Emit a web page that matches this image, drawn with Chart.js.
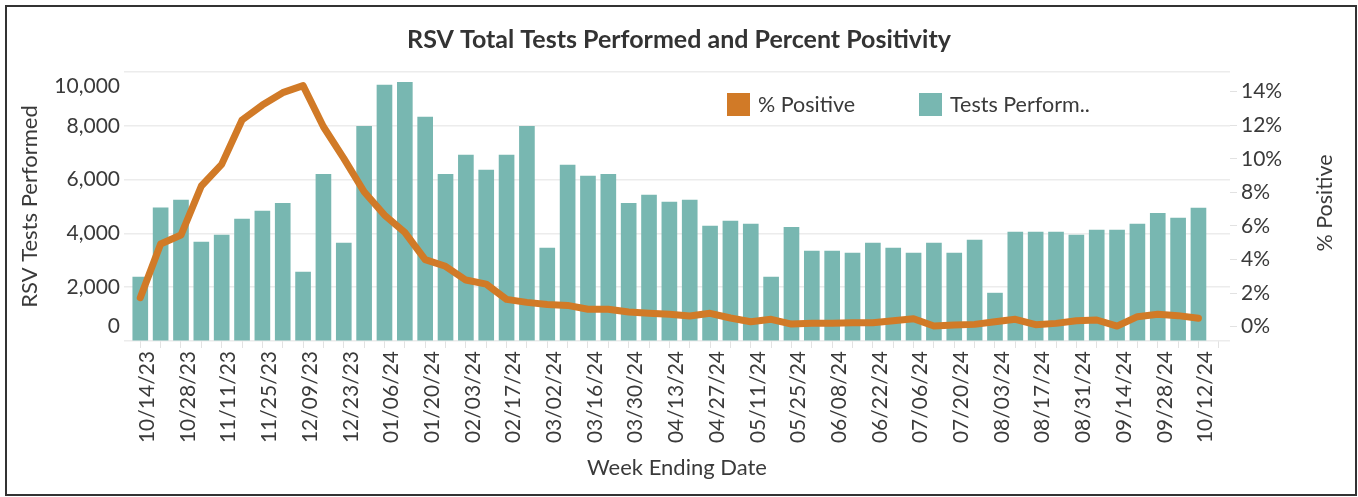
<!DOCTYPE html>
<html lang="en">
<head>
    <meta charset="UTF-8">
    <title>RSV Total Tests Performed and Percent Positivity</title>
    <script src="https://cdn.jsdelivr.net/npm/chart.js"></script>
    <style>
        * {
            margin: 0;
            padding: 0;
            box-sizing: border-box;
        }

        body {
            background: #fff;
            width: 1358px;
            height: 497px;
            overflow: hidden;
            font-family: Lato, sans-serif;
        }

        .wrap {
            position: relative;
            width: 1358px;
            height: 497px;
        }

        .frame {
            position: absolute;
            left: 5px;
            top: 5px;
            width: 1352px;
            height: 491px;
            border: 2px solid #333;
            pointer-events: none;
        }
    </style>
</head>
<body>

<div class="wrap">
    <canvas id="rsvChart" width="1358" height="497"></canvas>
    <div class="frame"></div>
</div>

<script>
    // week ending dates
    const weeks = [
        '10/14/23', '10/21/23', '10/28/23', '11/04/23', '11/11/23', '11/18/23', '11/25/23',
        '12/02/23', '12/09/23', '12/16/23', '12/23/23', '12/30/23', '01/06/24', '01/13/24',
        '01/20/24', '01/27/24', '02/03/24', '02/10/24', '02/17/24', '02/24/24', '03/02/24',
        '03/09/24', '03/16/24', '03/23/24', '03/30/24', '04/06/24', '04/13/24', '04/20/24',
        '04/27/24', '05/04/24', '05/11/24', '05/18/24', '05/25/24', '06/01/24', '06/08/24',
        '06/15/24', '06/22/24', '06/29/24', '07/06/24', '07/13/24', '07/20/24', '07/27/24',
        '08/03/24', '08/10/24', '08/17/24', '08/24/24', '08/31/24', '09/07/24', '09/14/24',
        '09/21/24', '09/28/24', '10/05/24', '10/12/24'
    ];

    // RSV tests performed per week
    const testsPerformed = [
        2380, 4950, 5240, 3680, 3940, 4530, 4830, 5120, 2560, 6200,
        3640, 7980, 9510, 9620, 8320, 6200, 6910, 6350, 6910, 7980,
        3450, 6540, 6130, 6200, 5120, 5420, 5160, 5240, 4270, 4460,
        4350, 2380, 4230, 3340, 3340, 3270, 3640, 3450, 3270, 3640,
        3270, 3750, 1780, 4050, 4050, 4050, 3940, 4120, 4120, 4350,
        4750, 4570, 4940
    ];

    // percent positive per week
    const pctPositive = [
        1.73, 4.93, 5.46, 8.38, 9.67, 12.31, 13.2, 13.94, 14.36, 11.91,
        10.03, 8.04, 6.65, 5.62, 4.0, 3.6, 2.78, 2.54, 1.63, 1.45,
        1.33, 1.27, 1.04, 1.04, 0.88, 0.8, 0.74, 0.64, 0.8, 0.52,
        0.3, 0.44, 0.16, 0.2, 0.2, 0.24, 0.24, 0.36, 0.48, 0.04,
        0.1, 0.14, 0.3, 0.44, 0.12, 0.2, 0.36, 0.4, 0.04, 0.6,
        0.74, 0.66, 0.5
    ];

    const testTicks = [0, 2000, 4000, 6000, 8000, 10000];
    const pctTicks = [0, 2, 4, 6, 8, 10, 12, 14];

    const textColor = '#3a3a3a';
    const gridColor = '#ececec';
    const font = 'Lato, sans-serif';

    // legend inside the plot, left tick labels kept inside the plot height,
    // right axis title reading bottom-to-top
    const extras = {
        id: 'extras',
        afterDraw(chart) {
            const ctx = chart.ctx;
            const area = chart.chartArea;
            ctx.save();
            ctx.textBaseline = 'middle';

            // left axis labels
            const yScale = chart.scales.y;
            ctx.font = '21px ' + font;
            ctx.fillStyle = textColor;
            ctx.textAlign = 'right';
            testTicks.forEach(function (v) {
                let py = yScale.getPixelForValue(v);
                py = Math.min(Math.max(py, area.top + 14), area.bottom - 15);
                ctx.fillText(v.toLocaleString('en-US'), yScale.right - 4, py);
            });

            // legend
            ctx.font = '21.5px ' + font;
            const items = [chart.data.datasets[0], chart.data.datasets[1]];
            const xs = [727, 919];
            items.forEach(function (ds, i) {
                ctx.fillStyle = ds.legendColor;
                ctx.fillRect(xs[i], 93, 23, 23);
                ctx.fillStyle = textColor;
                let label = ds.label;
                if (label.length > 13) label = label.slice(0, 13) + '..';
                ctx.textAlign = 'left';
                ctx.fillText(label, xs[i] + 31, 105);
            });

            // right axis title
            ctx.translate(1325, 203);
            ctx.rotate(-Math.PI / 2);
            ctx.textAlign = 'center';
            ctx.fillText('% Positive', 0, 0);
            ctx.restore();
        }
    };

    new Chart(document.getElementById('rsvChart'), {
        type: 'bar',
        data: {
            datasets: [{
                type: 'line',
                label: '% Positive',
                data: pctPositive.map((v, i) => ({ x: i, y: v })),
                yAxisID: 'y1',
                borderColor: '#D17A27',
                legendColor: '#D17A27',
                borderWidth: 7,
                borderJoinStyle: 'round',
                borderCapStyle: 'round',
                pointRadius: 0,
                tension: 0,
                order: 0
            }, {
                type: 'bar',
                label: 'Tests Performed',
                data: testsPerformed.map((v, i) => ({ x: i, y: v })),
                yAxisID: 'y',
                backgroundColor: '#78B7B1',
                legendColor: '#78B7B1',
                barThickness: 15,
                order: 1
            }]
        },
        options: {
            responsive: false,
            animation: false,
            layout: { padding: 0 },
            plugins: {
                legend: { display: false },
                tooltip: { enabled: false },
                title: {
                    display: true,
                    text: 'RSV Total Tests Performed and Percent Positivity',
                    color: '#333',
                    font: { family: font, size: 25, weight: 'bold', lineHeight: 1.2 },
                    padding: { top: 25, bottom: 17 }
                }
            },
            scales: {
                x: {
                    type: 'linear',
                    min: -0.8,
                    max: 53.55,
                    offset: false,
                    afterBuildTicks: function (scale) {
                        scale.ticks = weeks.concat(['']).map((w, i) => ({ value: i }));
                    },
                    afterFit: function (scale) {
                        scale.height = 156;
                    },
                    ticks: {
                        autoSkip: false,
                        minRotation: 90,
                        maxRotation: 90,
                        padding: 3,
                        labelOffset: 7,
                        color: textColor,
                        font: { family: font, size: 21 },
                        callback: function (v) {
                            return v % 2 === 0 && weeks[v] ? weeks[v] : '';
                        }
                    },
                    grid: {
                        offset: false,
                        drawOnChartArea: false,
                        tickLength: 7,
                        color: '#e2e2e2'
                    },
                    border: { display: false },
                    title: {
                        display: true,
                        text: 'Week Ending Date',
                        color: textColor,
                        font: { family: font, size: 22, lineHeight: 1.2 },
                        padding: { top: 0, bottom: 16 }
                    }
                },
                y: {
                    position: 'left',
                    min: 0,
                    max: 10000,
                    afterBuildTicks: function (scale) {
                        scale.ticks = testTicks.map(v => ({ value: v }));
                    },
                    afterFit: function (scale) {
                        scale.width = 124;
                    },
                    ticks: {
                        display: false
                    },
                    grid: {
                        drawTicks: false,
                        color: gridColor,
                        lineWidth: 1.5
                    },
                    border: { display: false },
                    title: {
                        display: true,
                        text: 'RSV Tests Performed',
                        color: textColor,
                        font: { family: font, size: 22, lineHeight: 1.2 },
                        padding: { top: 17, bottom: 0 }
                    }
                },
                y1: {
                    position: 'right',
                    min: -0.85,
                    max: 15.17,
                    afterBuildTicks: function (scale) {
                        scale.ticks = pctTicks.map(v => ({ value: v }));
                    },
                    afterFit: function (scale) {
                        scale.width = 128;
                    },
                    ticks: {
                        padding: 4,
                        color: textColor,
                        font: { family: font, size: 21 },
                        callback: v => v + '%'
                    },
                    grid: {
                        drawOnChartArea: false,
                        tickLength: 7,
                        color: '#e2e2e2'
                    },
                    border: { display: false }
                }
            }
        },
        plugins: [extras]
    });
</script>

</body>
</html>
